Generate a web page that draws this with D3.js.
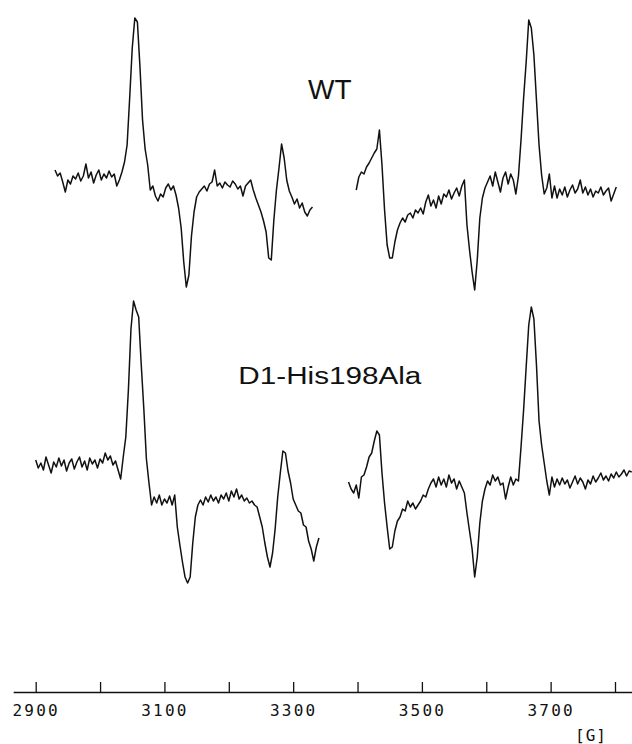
<!DOCTYPE html>
<html>
<head>
<meta charset="utf-8">
<script src="https://cdn.jsdelivr.net/npm/d3@7"></script>
<style>
  body { margin: 0; background: #fff; }
  svg { display: block; }
</style>
</head>
<body>
<svg id="chart"></svg>
<script>
/* Field sweep (G): each segment starts at its own field, step 4 G */
const fieldStep = 4;
const wtLeftStart = 2930;
const wtRightStart = 3398;
const d1LeftStart = 2900;
const d1RightStart = 3386;

/* Signal (arb. units) */
const wtLeft = [
  10, 4, 7, -2, -12, 0, -4, 4, 1, 7,
  -1, 4, 16, 2, 8, -3, 5, 10, 0, 6,
  2, 9, 3, 6, -6, 0, 8, 18, 35, 82,
  132, 162, 158, 113, 60, 31, 15, -10, -6, -16,
  -21, -14, -17, -8, -4, -10, -6, -15, -28, -48,
  -82, -107, -95, -56, -32, -17, -12, -9, -6, -11,
  -4, -2, 10, -6, -3, -8, -2, -5, -7, -1,
  -4, -9, -6, -16, -6, -3, 0, -10, -18, -25,
  -32, -41, -52, -78, -80, -40, -10, 12, 36, 22,
  0, -11, -17, -24, -19, -28, -23, -32, -36, -30,
  -27
];
const wtRight = [
  -10, 3, 8, 6, 13, 17, 22, 27, 31, 50,
  15, -30, -65, -78, -78, -62, -50, -43, -38, -42,
  -35, -33, -38, -30, -33, -28, -34, -22, -15, -26,
  -20, -28, -16, -24, -14, -17, -10, -19, -13, -8,
  -16, -6, 0, -45, -70, -92, -110, -80, -38, -18,
  -8, -2, 4, -6, 8, -2, -12, 2, 8, -4,
  6, 0, -14, 4, 40, 82, 118, 160, 152, 125,
  80, 35, 5, -14, -8, 6, -18, -6, -18, -9,
  -15, -7, -17, -10, -5, -13, -9, 0, -13, -7,
  -15, -9, -17, -11, -13, -7, -15, -11, -8, -21,
  -14, -7
];
const d1Left = [
  5, -3, 2, -5, 8, 0, -8, 3, -2, 7,
  -1, 5, -6, 2, 6, -4, 3, 8, -2, 4,
  -5, 7, 1, 5, -3, 6, 2, 12, 5, 9,
  0, 4, -5, -14, 8, 28, 75, 136, 164, 155,
  148, 100, 56, 6, -18, -40, -32, -38, -30, -40,
  -34, -38, -31, -40, -30, -62, -80, -97, -112, -118,
  -112, -78, -52, -40, -35, -40, -32, -37, -30, -36,
  -32, -38, -30, -34, -28, -36, -26, -32, -24, -34,
  -30, -36, -33, -38, -36, -40, -42, -52, -62, -78,
  -92, -102, -88, -64, -32, -8, 14, 12, -6, -18,
  -34, -40, -46, -48, -60, -62, -76, -84, -96, -82, -73
];
const d1Right = [
  -17, -24, -28, -20, -33, -12, -10, -2, 8, 12,
  24, 34, 30, -8, -38, -62, -84, -82, -66, -56,
  -52, -44, -46, -36, -42, -38, -44, -40, -36, -30,
  -32, -24, -18, -14, -22, -12, -20, -14, -22, -10,
  -18, -14, -24, -16, -22, -28, -48, -66, -84, -112,
  -92, -58, -36, -24, -16, -20, -10, -16, -12, -20,
  -18, -34, -22, -12, -20, -14, -16, 18, 55, 98,
  140, 158, 146, 100, 44, 20, 2, -16, -30, -12,
  -22, -14, -20, -13, -19, -15, -23, -17, -11, -19,
  -13, -17, -24, -15, -19, -11, -17, -13, -8, -15,
  -11, -16, -9, -13, -7, -12, -9, -5, -11, -6, -7
];

/* Samples and vertical offsets of the two spectra */
const sampleNames = ["WT", "D1-His198Ala"];
const sampleOffsets = [0, -285];

/* Axis */
const tickValues = [2900, 3000, 3100, 3200, 3300, 3400, 3500, 3600, 3700, 3800];
const tickLabels = [2900, 3100, 3300, 3500, 3700];
const unitLabel = "[G]";

const spectra = [
  { name: sampleNames[0], offset: sampleOffsets[0], parts: [[wtLeftStart, wtLeft], [wtRightStart, wtRight]] },
  { name: sampleNames[1], offset: sampleOffsets[1], parts: [[d1LeftStart, d1Left], [d1RightStart, d1Right]] }
];

/* Define size */
const width = 632,
  height = 744,
  axisY = 692;

const svg = d3.select("#chart").attr("width", width).attr("height", height);

/* Build Scales */
const xScale = d3.scaleLinear().domain([2900, 3800]).range([35.7, 615]);
const yScale = d3.scaleLinear().domain([-420, 180]).range([600, 0]);

const toPoints = (start, values, offset) =>
  values.map((v, i) => ({ field: start + i * fieldStep, value: v + offset }));

const line = d3
  .line()
  .x((d) => xScale(d.field))
  .y((d) => yScale(d.value));

/* Draw the spectra */
spectra.forEach((s, k) => {
  s.parts.forEach(([start, values]) => {
    svg
      .append("path")
      .datum(toPoints(start, values, s.offset))
      .attr("d", line)
      .attr("fill", "none")
      .attr("stroke", "#111")
      .attr("stroke-width", 1.5)
      .attr("stroke-linejoin", "round");
  });

  const label = svg
    .append("text")
    .attr("x", xScale(3357))
    .attr("y", yScale(s.offset + 81))
    .attr("text-anchor", "middle")
    .attr("font-family", "'Liberation Sans', Arial, sans-serif")
    .attr("font-size", k === 0 ? 28 : 23)
    .attr("fill", "#111")
    .text(s.name);

  // the lower label is printed wider than the font
  if (k === 1) {
    label.attr("textLength", 183).attr("lengthAdjust", "spacingAndGlyphs");
  }
});

/* Create & Draw the axis */
const axisScale = d3
  .scaleLinear()
  .domain([2865, 3826])
  .range([xScale(2865), xScale(3826)]);

const xAxis = d3
  .axisBottom(axisScale)
  .tickValues(tickValues)
  .tickSizeInner(-10)
  .tickSizeOuter(0)
  .tickPadding(13)
  .tickFormat((d) => (tickLabels.includes(d) ? d : ""));

const gx = svg
  .append("g")
  .attr("transform", `translate(0,${axisY})`)
  .call(xAxis)
  .attr("font-family", "'DejaVu Sans Mono', monospace")
  .attr("font-size", 16);

gx.select(".domain").attr("stroke", "#111").attr("stroke-width", 1.6);
gx.selectAll(".tick line").attr("stroke", "#111").attr("stroke-width", 1.3);
gx.selectAll(".tick text").attr("fill", "#111").attr("letter-spacing", 2.2);

svg
  .append("text")
  .attr("x", 591)
  .attr("y", 741)
  .attr("text-anchor", "middle")
  .attr("font-family", "'DejaVu Sans Mono', monospace")
  .attr("font-size", 16)
  .attr("letter-spacing", 1)
  .attr("fill", "#111")
  .text(unitLabel);
</script>
</body>
</html>
